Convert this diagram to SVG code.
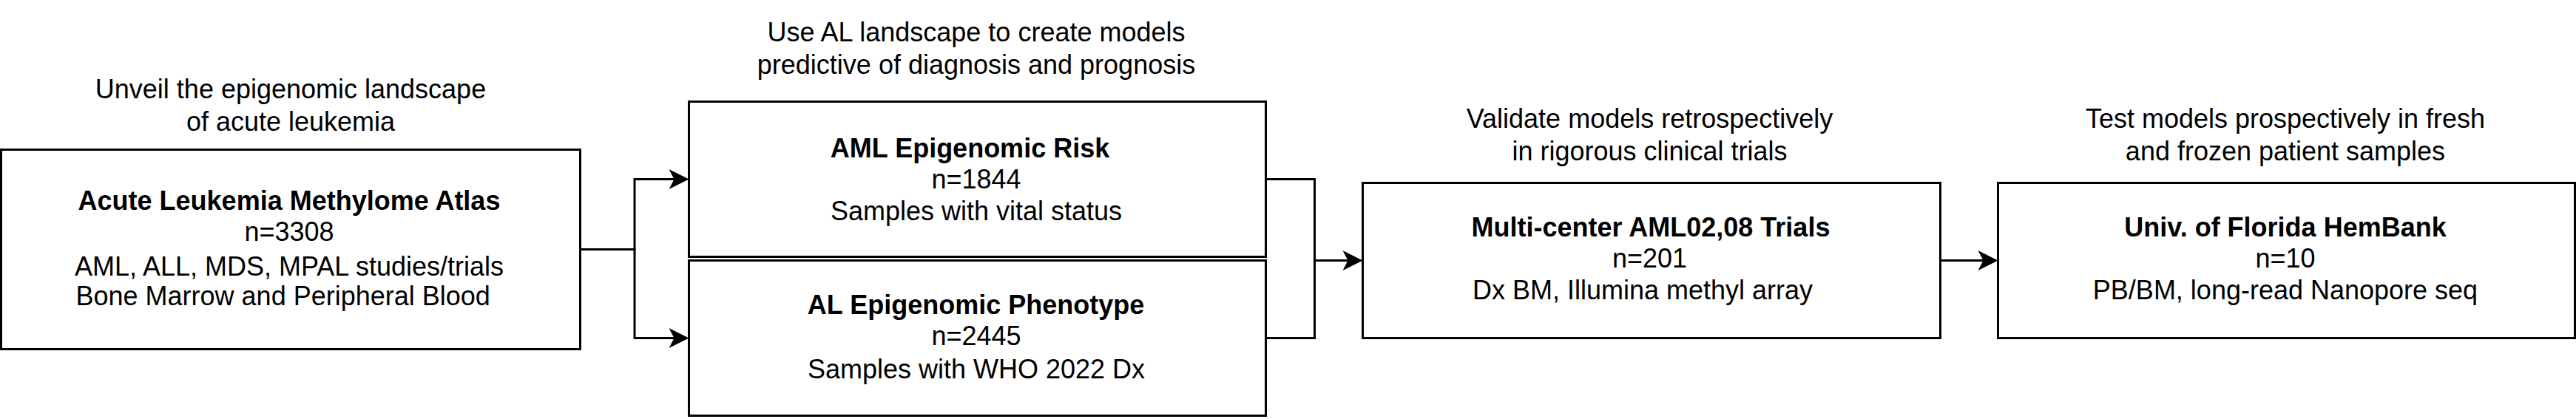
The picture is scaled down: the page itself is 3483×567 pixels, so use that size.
<svg xmlns="http://www.w3.org/2000/svg" width="3483" height="567" viewBox="0 0 3483 567">
<style>
  .box { fill: #ffffff; stroke: #000000; stroke-width: 3; }
  .t { font-family: "Liberation Sans", Arial, sans-serif; font-size: 36px; fill: #000000; }
  .c { text-anchor: middle; }
  .b { font-weight: bold; }
  .edge { fill: none; stroke: #000000; stroke-width: 3; marker-end: url(#arrow); }
  .edge-plain { fill: none; stroke: #000000; stroke-width: 3; }
</style>
<defs>
  <marker id="arrow" markerUnits="userSpaceOnUse" markerWidth="30" markerHeight="30" refX="21" refY="13.5" orient="auto" overflow="visible">
    <path d="M0,0 L27,13.5 L0,27 L7,13.5 Z" fill="#000000" stroke="none"/>
  </marker>
</defs>
<rect width="3483" height="567" fill="#ffffff"/>

<g id="connectors">
  <path class="edge" d="M784.5,337.5 H858 V242.5 H925.5"/>
  <path class="edge" d="M784.5,337.5 H858 V457.5 H925.5"/>
  <path class="edge-plain" d="M1711.5,242.5 H1777.5 V457.5 H1711.5"/>
  <path class="edge" d="M1777.5,352.5 H1836.5"/>
  <path class="edge" d="M2623.5,352.5 H2695.5"/>
</g>

<g id="title-atlas">
  <text class="t c" x="393" y="132.5">Unveil the epigenomic landscape</text>
  <text class="t c" x="393" y="177">of acute leukemia</text>
</g>
<g id="node-atlas">
  <rect class="box" x="1.5" y="202.5" width="783" height="270"/>
  <text class="t c b" x="391" y="284">Acute Leukemia Methylome Atlas</text>
  <text class="t c" x="391" y="326">n=3308</text>
  <text class="t c" x="391" y="372.5">AML, ALL, MDS, MPAL studies/trials</text>
  <text class="t" x="102.5" y="413">Bone Marrow and Peripheral Blood</text>
</g>

<g id="title-models">
  <text class="t c" x="1320" y="56">Use AL landscape to create models</text>
  <text class="t c" x="1320" y="99.5">predictive of diagnosis and prognosis</text>
</g>
<g id="node-risk">
  <rect class="box" x="931.5" y="137.5" width="780" height="210"/>
  <text class="t c b" x="1311.5" y="212.5">AML Epigenomic Risk</text>
  <text class="t c" x="1320" y="255">n=1844</text>
  <text class="t c" x="1320" y="298">Samples with vital status</text>
</g>
<g id="node-phenotype">
  <rect class="box" x="931.5" y="352.5" width="780" height="210"/>
  <text class="t c b" x="1319.5" y="424.5">AL Epigenomic Phenotype</text>
  <text class="t c" x="1320" y="467">n=2445</text>
  <text class="t c" x="1320" y="511.5">Samples with WHO 2022 Dx</text>
</g>

<g id="title-validate">
  <text class="t c" x="2230.5" y="172.7">Validate models retrospectively</text>
  <text class="t c" x="2230.5" y="216.7">in rigorous clinical trials</text>
</g>
<g id="node-trials">
  <rect class="box" x="1842.5" y="247.5" width="781" height="210"/>
  <text class="t c b" x="2232" y="319.5">Multi-center AML02,08 Trials</text>
  <text class="t c" x="2230.5" y="361.7">n=201</text>
  <text class="t" x="1991" y="405">Dx BM, Illumina methyl array</text>
</g>

<g id="title-test">
  <text class="t c" x="3090" y="172.7">Test models prospectively in fresh</text>
  <text class="t c" x="3090" y="216.7">and frozen patient samples</text>
</g>
<g id="node-hembank">
  <rect class="box" x="2701.5" y="247.5" width="780" height="210"/>
  <text class="t c b" x="3090" y="319.5">Univ. of Florida HemBank</text>
  <text class="t c" x="3090" y="361.7">n=10</text>
  <text class="t c" x="3090" y="405">PB/BM, long-read Nanopore seq</text>
</g>
</svg>
